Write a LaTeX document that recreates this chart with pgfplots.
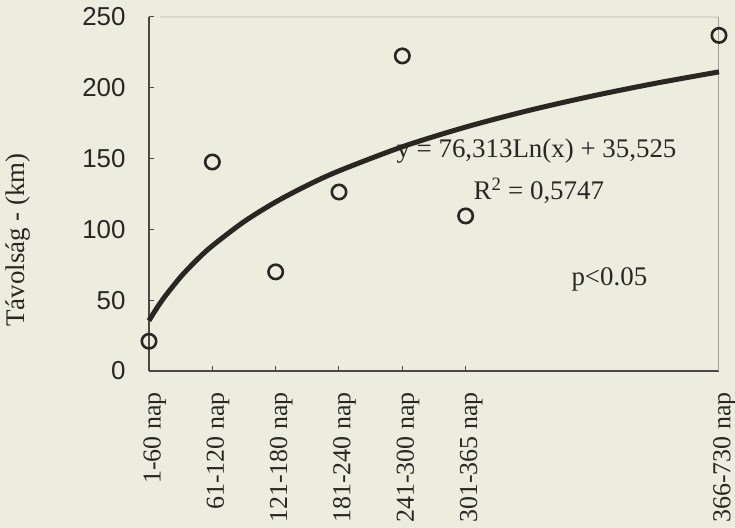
\documentclass[border=0pt]{standalone}
\usepackage{fontspec}
\setmainfont{Liberation Serif}
\setsansfont{Liberation Sans}
\usepackage{pgfplots}
\pgfplotsset{compat=1.18}

\definecolor{paper}{RGB}{236,236,223}
\definecolor{ink}{RGB}{42,39,35}
\definecolor{rim}{RGB}{160,160,152}
\definecolor{faint}{RGB}{216,216,204}

% logarithmic trend: y = 76.313 ln(x) + 35.525
\pgfplotstableread{
x     y
1     35.53
1.1   42.80
1.25  52.55
1.5   66.47
1.75  78.23
2     88.42
2.5   105.45
3     119.36
3.5   131.13
4     141.32
5     158.35
6     172.26
7     184.02
8     194.21
9     203.20
10    211.24
}\trend

\pgfplotstableread{
x   y
1   21
2   147.6
3   70
4   126.4
5   222.5
6   109.5
10  237
}\distances

\begin{document}
\begin{tikzpicture}
\fill[paper] (0,0) rectangle (735bp,528bp);
\path[use as bounding box] (0,0) rectangle (735bp,528bp);
\begin{axis}[
  at={(149bp,157bp)}, anchor=south west,
  width=570bp, height=354bp, scale only axis,
  xmin=1, xmax=10, ymin=0, ymax=250,
  axis lines*=left,
  axis line style={ink!85, line width=1.2bp},
  xtick={1,2,3,4,5,6,10},
  xticklabels={1-60 nap,61-120 nap,121-180 nap,181-240 nap,241-300 nap,301-365 nap,366-730 nap},
  ytick={0,50,...,250},
  tick align=inside,
  major tick length=5bp,
  tick style={ink!85, line width=1bp},
  /pgf/number format/assume math mode=true,
  yticklabel style={font=\sffamily\fontsize{26}{30}\selectfont, text=ink},
  yticklabel shift=20bp,
  xticklabel style={font=\fontsize{26}{30}\selectfont, text=ink, text height=29bp, text depth=6bp, rotate=90, anchor=east},
  xticklabel shift=18bp,
  ylabel={Távolság - (km)},
  ylabel style={font=\fontsize{27}{31}\selectfont, text=ink, at={(axis description cs:-0.2298,0.37)}, anchor=center},
  clip=false,
]
% faint plot-area border on top and right
\draw[faint, line width=1.2bp] (rel axis cs:0.02,1) -- (rel axis cs:1,1);
\draw[rim, line width=1bp] (rel axis cs:1,1) -- (rel axis cs:1,0);

\addplot[ink, line width=5bp, no marks, smooth] table[x=x, y=y] {\trend};
\addplot[only marks, mark=o, mark size=7.2bp, mark options={ink, line width=2.6bp}] table[x=x, y=y] {\distances};

\node[anchor=base west, text=ink, font=\fontsize{27}{31}\selectfont] at (axis cs:4.853,151.1) {y = 76,313Ln(x) + 35,525};
\node[anchor=base west, text=ink, font=\fontsize{27}{31}\selectfont] at (axis cs:6.07,120.8) {R\textsuperscript{2} = 0,5747};
\node[anchor=base west, text=ink, font=\fontsize{27}{31}\selectfont] at (axis cs:7.616,60.7) {p<0.05};
\end{axis}
\end{tikzpicture}
\end{document}
